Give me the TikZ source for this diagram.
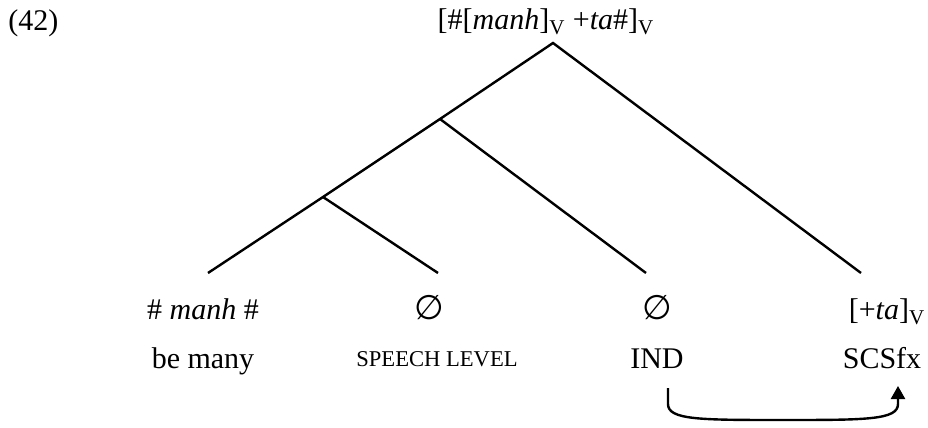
\documentclass[tikz,border=0pt]{standalone}
\usepackage{fontspec}
\setmainfont{Liberation Serif}
\newfontfamily\symfont{DejaVu Sans}
\usetikzlibrary{arrows.meta}
\tikzset{
  branch/.style={line width=1.2pt},
  word/.style={anchor=base, inner sep=0pt, font=\fontsize{15}{18}\selectfont},
  gloss/.style={anchor=base, inner sep=0pt, font=\fontsize{11.3}{14}\selectfont},
  nullsym/.style={anchor=base, inner sep=0pt, font=\fontsize{17}{20}\symfont},
}
\begin{document}
\begin{tikzpicture}[x=5pt, y=-5pt]
  \useasboundingbox (0,0) rectangle (92.8,42.8);

  \node[word, anchor=base west] (num) at (0.8,3.1) {(42)};
  \node[word] (root) at (54.6,3.0) {[\#[\textit{manh}]\textsubscript{V} +\textit{ta}\#]\textsubscript{V}};

  % branching points and leaf ends
  \coordinate (top) at (55.3,4.3);
  \coordinate (j1) at (44.0,11.9);
  \coordinate (j2) at (32.3,19.7);
  \coordinate (e1) at (20.8,27.3);
  \coordinate (e2) at (43.8,27.3);
  \coordinate (e3) at (64.6,27.3);
  \coordinate (e4) at (86.1,27.3);

  \draw[branch] (e1) -- (j2) -- (j1) -- (top) -- (e4);
  \draw[branch] (j1) -- (e3);
  \draw[branch] (j2) -- (e2);

  % morphemes
  \node[word] (manh) at (20.3,32.0) {\# \textit{manh} \#};
  \node[nullsym] (zero1) at (42.9,32.0) {∅};
  \node[nullsym] (zero2) at (65.7,32.0) {∅};
  \node[word] (ta) at (88.7,32.0) {[+\textit{ta}]\textsubscript{V}};

  % glosses
  \node[word] (many) at (20.3,36.8) {be many};
  \node[gloss] (level) at (43.7,36.6) {SPEECH LEVEL};
  \node[word] (ind) at (65.7,36.8) {IND};
  \node[word] (scs) at (88.2,36.8) {SCSfx};

  % movement
  \coordinate (a1) at (66.8,38.8);
  \coordinate (a2) at (89.8,38.6);
  \draw[branch, -{Triangle[width=7pt,length=6.5pt]}] (a1) -- (66.8,40.4)
    .. controls (66.8,42.0) and (70,42.0) .. (78.3,42.0)
    .. controls (86.6,42.0) and (89.8,42.0) .. (89.8,40.4) -- (a2);
\end{tikzpicture}
\end{document}
